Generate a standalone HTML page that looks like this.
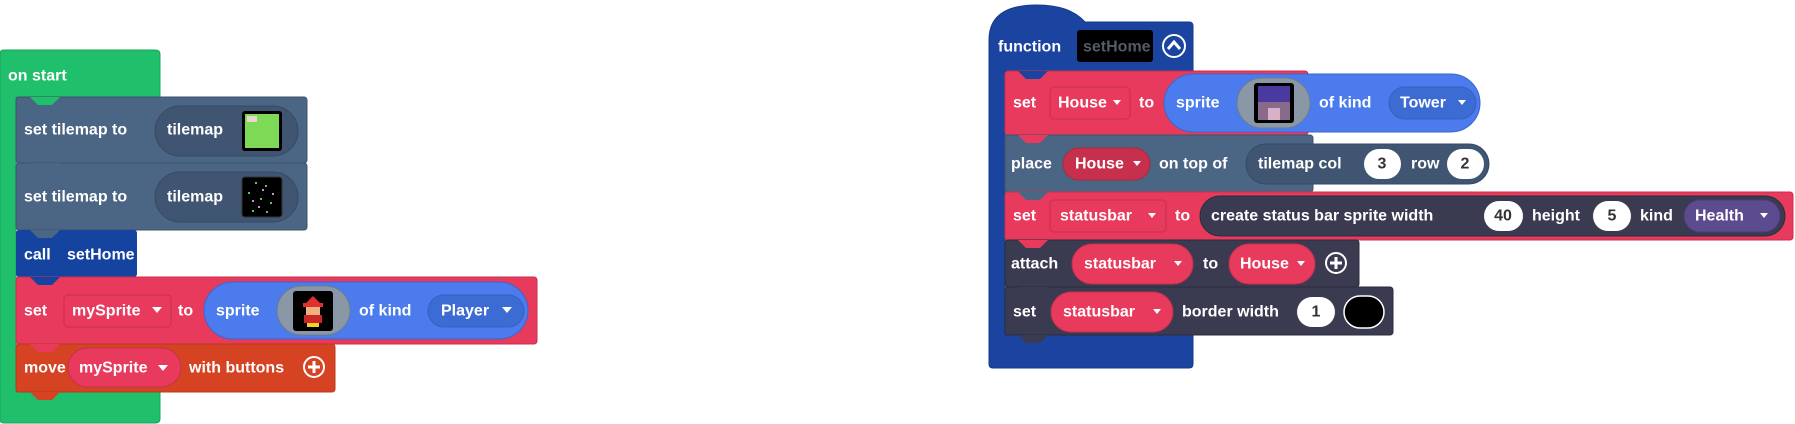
<!DOCTYPE html>
<html><head><meta charset="utf-8"><style>
html,body{margin:0;padding:0;background:#fff;width:1795px;height:424px;overflow:hidden}
svg text{font-family:"Liberation Sans",sans-serif;font-weight:bold;font-size:16px;fill:#fff;dominant-baseline:central}
</style></head><body>
<svg width="1795" height="424" viewBox="0 0 1795 424" xmlns="http://www.w3.org/2000/svg">
<path d="M4,50 H155 Q160,50 160,54 V97 H16 V392 H160 V419 Q160,423 155,423 H4 Q0,423 0,419 V54 Q0,50 4,50 Z" fill="#20bf6b" stroke="#1aa35a" stroke-width="1"/>
<text x="8" y="76">on start</text>

<rect x="16" y="97" width="291" height="66" rx="3" fill="#4b6584" stroke="#3d536d"/>
<rect x="155" y="106" width="143" height="50" rx="25" fill="#3f5571" stroke="#364a63"/>
<text x="24" y="130">set tilemap to</text>
<text x="167" y="130">tilemap</text>
<rect x="242" y="111" width="40" height="40" rx="3" fill="#000"/>
<rect x="245" y="114" width="34" height="34" fill="#7ed957"/>
<rect x="247" y="116" width="10" height="6" fill="#e8d6d0"/>
<rect x="16" y="163" width="291" height="67" rx="3" fill="#4b6584" stroke="#3d536d"/>
<rect x="155" y="172" width="143" height="50" rx="25" fill="#3f5571" stroke="#364a63"/>
<text x="24" y="197">set tilemap to</text>
<text x="167" y="197">tilemap</text>
<rect x="242" y="177" width="40" height="40" rx="3" fill="#000" stroke="#333"/>
<g fill="#5fbf6a"><rect x="255" y="182" width="2" height="2"/><rect x="265" y="185" width="2" height="2"/><rect x="248" y="192" width="2" height="2"/><rect x="260" y="198" width="2" height="2"/><rect x="270" y="202" width="2" height="2"/><rect x="252" y="210" width="2" height="2"/><rect x="266" y="211" width="2" height="2"/></g>
<g fill="#c98fd0"><rect x="262" y="189" width="2" height="2"/><rect x="252" y="200" width="2" height="2"/><rect x="272" y="193" width="2" height="2"/><rect x="258" y="206" width="2" height="2"/></g>
<polygon points="30,97 38,105 52,105 60,97" fill="#20bf6b"/>
<polygon points="30,163 38,171 52,171 60,163" fill="#4b6584"/>
<polygon points="30,230 38,238 52,238 60,230" fill="#4b6584"/>

<rect x="16" y="230" width="121" height="47" rx="3" fill="#1543a0"/>
<polygon points="30,230 38,238 52,238 60,230" fill="#4b6584"/>
<text x="24" y="255">call</text>
<text x="67" y="255">setHome</text>

<rect x="16" y="277" width="521" height="67" rx="3" fill="#e83a5c" stroke="#c9304e"/>
<polygon points="30,277 38,285 52,285 60,277" fill="#1543a0"/>
<text x="24" y="311">set</text>
<rect x="64" y="295" width="107" height="32" rx="4" fill="#e83a5c" stroke="#c4304d"/>
<text x="72" y="311">mySprite</text>
<polygon points="152,307 162,307 157,313" fill="#fff"/>
<text x="178" y="311">to</text>
<rect x="204" y="282" width="324" height="57" rx="28.5" fill="#4b7bec" stroke="#3b66c8"/>
<text x="216" y="311">sprite</text>
<rect x="277" y="286" width="73" height="49" rx="24.5" fill="#8a97a6" stroke="#6f7b8a"/>
<rect x="293" y="291" width="40" height="40" rx="3" fill="#000"/>
<polygon points="306,303 313,296 320,303" fill="#e03030"/>
<rect x="303" y="303" width="20" height="4" fill="#e03030"/>
<rect x="306" y="307" width="14" height="8" fill="#f0b080"/>
<rect x="304" y="315" width="18" height="8" fill="#c82828"/>
<rect x="307" y="323" width="12" height="4" fill="#f8d020"/>
<text x="359" y="311">of kind</text>
<rect x="428" y="295" width="96" height="32" rx="16" fill="#3d6bd4" stroke="#3460c0"/>
<text x="441" y="311">Player</text>
<polygon points="502,307 512,307 507,313" fill="#fff"/>

<rect x="16" y="344" width="319" height="48" rx="3" fill="#d54322" stroke="#b8391c"/>
<polygon points="30,344 38,352 52,352 60,344" fill="#e83a5c"/>
<polygon points="30,392 38,400 52,400 60,392" fill="#d54322"/>
<text x="24" y="368">move</text>
<rect x="68" y="348" width="113" height="39" rx="19.5" fill="#e83a5c" stroke="#c4304d"/>
<text x="79" y="368">mySprite</text>
<polygon points="158,365 168,365 163,371" fill="#fff"/>
<text x="189" y="368">with buttons</text>
<circle cx="314" cy="367" r="10" fill="none" stroke="#fff" stroke-width="2"/>
<path d="M314,361 V373 M308,367 H320" stroke="#fff" stroke-width="3"/>

<path d="M989,71 V40 Q989,5 1037,5 Q1070,5 1085,22 H1189 Q1193,22 1193,26 V71 H1005 V335 H1193 V364 Q1193,368 1189,368 H993 Q989,368 989,364 Z" fill="#1a44a0" stroke="#163a8a"/>
<text x="998" y="47">function</text>
<rect x="1077" y="30" width="76" height="32" rx="3" fill="#000"/>
<text x="1083" y="47" style="fill:#555a66">setHome</text>
<circle cx="1174" cy="46" r="11" fill="none" stroke="#fff" stroke-width="2"/>
<polyline points="1168,49 1174,42 1180,49" fill="none" stroke="#fff" stroke-width="3"/>

<rect x="1005" y="71" width="303" height="64" rx="3" fill="#e83a5c" stroke="#c9304e"/>
<polygon points="1018,71 1026,79 1040,79 1048,71" fill="#1a44a0"/>
<text x="1013" y="103">set</text>
<rect x="1050" y="87" width="80" height="32" rx="4" fill="#e83a5c" stroke="#c4304d"/>
<text x="1058" y="103">House</text>
<polygon points="1113,100 1121,100 1117,105" fill="#fff"/>
<text x="1139" y="103">to</text>
<rect x="1164" y="74" width="316" height="58" rx="29" fill="#4b7bec" stroke="#3b66c8"/>
<text x="1176" y="103">sprite</text>
<rect x="1237" y="78" width="73" height="50" rx="25" fill="#8a97a6" stroke="#6f7b8a"/>
<rect x="1254" y="83" width="40" height="40" rx="3" fill="#000"/>
<rect x="1258" y="86" width="32" height="16" fill="#4a3aa0"/>
<rect x="1258" y="102" width="32" height="18" fill="#8a6a8a"/>
<rect x="1268" y="108" width="12" height="12" fill="#d8b0c8"/>
<text x="1319" y="103">of kind</text>
<rect x="1389" y="87" width="87" height="32" rx="16" fill="#3d6bd4" stroke="#3460c0"/>
<text x="1400" y="103">Tower</text>
<polygon points="1458,100 1466,100 1462,105" fill="#fff"/>

<rect x="1005" y="135" width="308" height="57" rx="3" fill="#4b6584" stroke="#3d536d"/>
<polygon points="1018,135 1026,143 1040,143 1048,135" fill="#e83a5c"/>
<text x="1011" y="164">place</text>
<rect x="1063" y="148" width="87" height="32" rx="16" fill="#c7304c" stroke="#a82a42"/>
<text x="1075" y="164">House</text>
<polygon points="1133,161 1141,161 1137,166" fill="#fff"/>
<text x="1159" y="164">on top of</text>
<rect x="1246" y="144" width="243" height="40" rx="20" fill="#3f5571" stroke="#364a63"/>
<text x="1258" y="164">tilemap col</text>
<rect x="1364" y="149" width="37" height="30" rx="15" fill="#fff"/>
<text x="1382" y="164" text-anchor="middle" style="fill:#333">3</text>
<text x="1411" y="164">row</text>
<rect x="1447" y="149" width="37" height="30" rx="15" fill="#fff"/>
<text x="1465" y="164" text-anchor="middle" style="fill:#333">2</text>

<rect x="1005" y="192" width="788" height="48" rx="3" fill="#e83a5c" stroke="#c9304e"/>
<polygon points="1018,192 1026,200 1040,200 1048,192" fill="#4b6584"/>
<text x="1013" y="216">set</text>
<rect x="1050" y="200" width="116" height="32" rx="4" fill="#e83a5c" stroke="#c4304d"/>
<text x="1060" y="216">statusbar</text>
<polygon points="1148,213 1156,213 1152,218" fill="#fff"/>
<text x="1175" y="216">to</text>
<rect x="1200" y="196" width="585" height="40" rx="20" fill="#3a3a50" stroke="#2c2c3e"/>
<text x="1211" y="216">create status bar sprite width</text>
<rect x="1484" y="201" width="39" height="30" rx="15" fill="#fff"/>
<text x="1503" y="216" text-anchor="middle" style="fill:#333">40</text>
<text x="1532" y="216">height</text>
<rect x="1593" y="201" width="38" height="30" rx="15" fill="#fff"/>
<text x="1612" y="216" text-anchor="middle" style="fill:#333">5</text>
<text x="1640" y="216">kind</text>
<rect x="1684" y="200" width="96" height="32" rx="16" fill="#5c4b8f" stroke="#4a3c78"/>
<text x="1695" y="216">Health</text>
<polygon points="1760,213 1768,213 1764,218" fill="#fff"/>

<rect x="1005" y="240" width="354" height="47" rx="3" fill="#3a3a50" stroke="#2c2c3e"/>
<polygon points="1018,240 1026,248 1040,248 1048,240" fill="#e83a5c"/>
<text x="1011" y="264">attach</text>
<rect x="1072" y="244" width="121" height="40" rx="20" fill="#e83a5c" stroke="#c4304d"/>
<text x="1084" y="264">statusbar</text>
<polygon points="1174,261 1182,261 1178,266" fill="#fff"/>
<text x="1203" y="264">to</text>
<rect x="1229" y="244" width="86" height="40" rx="20" fill="#e83a5c" stroke="#c4304d"/>
<text x="1240" y="264">House</text>
<polygon points="1297,261 1305,261 1301,266" fill="#fff"/>
<circle cx="1336" cy="263" r="10" fill="none" stroke="#fff" stroke-width="2"/>
<path d="M1336,257 V269 M1330,263 H1342" stroke="#fff" stroke-width="3"/>

<rect x="1005" y="287" width="388" height="48" rx="3" fill="#3a3a50" stroke="#2c2c3e"/>
<polygon points="1018,287 1026,295 1040,295 1048,287" fill="#3a3a50"/>
<polygon points="1018,335 1026,343 1040,343 1048,335" fill="#3a3a50"/>
<text x="1013" y="312">set</text>
<rect x="1051" y="292" width="122" height="40" rx="20" fill="#e83a5c" stroke="#c4304d"/>
<text x="1063" y="312">statusbar</text>
<polygon points="1153,309 1161,309 1157,314" fill="#fff"/>
<text x="1182" y="312">border width</text>
<rect x="1297" y="297" width="38" height="30" rx="15" fill="#fff"/>
<text x="1316" y="312" text-anchor="middle" style="fill:#333">1</text>
<rect x="1344" y="296" width="40" height="32" rx="16" fill="#000" stroke="#fff" stroke-width="1.5"/>
</svg>
</body></html>
